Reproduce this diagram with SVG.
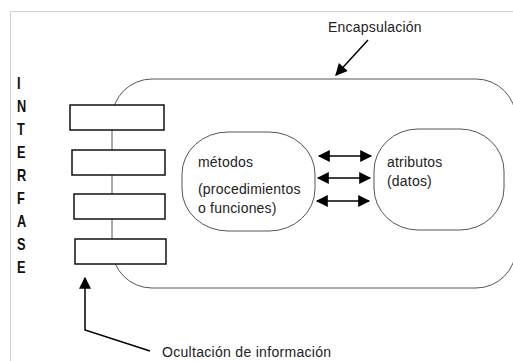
<svg xmlns="http://www.w3.org/2000/svg" width="513" height="361" viewBox="0 0 513 361">
<defs>
<style>
.t{font-family:"Liberation Sans",Arial,sans-serif;font-size:14px;letter-spacing:0.2px;fill:#222}
.v{font-family:"Liberation Sans",Arial,sans-serif;font-size:16px;font-weight:bold;fill:#111}
.thin{fill:none;stroke:#555;stroke-width:1}
.box{fill:#fff;stroke:#111;stroke-width:1.5}
.arr{stroke:#000;stroke-width:1.5;fill:none}
</style>
<marker id="ah2" viewBox="0 0 10 10" refX="9" refY="5" markerWidth="10" markerHeight="8" markerUnits="strokeWidth" orient="auto-start-reverse">
<path d="M0,0 L10,5 L0,10 z" fill="#000"/>
</marker>
</defs>
<rect width="513" height="361" fill="#fff"/>
<path d="M10.5,362 V11.5 H514" fill="none" stroke="#d0d0d0" stroke-width="1"/>
<g id="encapsulacion">
<rect class="thin" x="112" y="79" width="404" height="209" rx="40" ry="40"/>
</g>
<g id="box1"><rect class="box" x="70" y="105" width="94" height="25"/></g>
<g id="box2"><rect class="box" x="72" y="150" width="93" height="25"/></g>
<g id="box3"><rect class="box" x="74" y="194" width="91" height="25"/></g>
<g id="box4"><rect class="box" x="75" y="239" width="91" height="25"/></g>
<g id="metodos">
<rect class="thin" x="182" y="132" width="133" height="99" rx="46" ry="42" fill="#fff"/>
<text class="t" x="198" y="167">métodos</text>
<text class="t" x="198" y="194">(procedimientos</text>
<text class="t" x="198" y="213">o funciones)</text>
</g>
<g id="atributos">
<rect class="thin" x="374" y="129" width="130" height="101" rx="44" ry="42" fill="#fff"/>
<text class="t" x="387" y="167">atributos</text>
<text class="t" x="387" y="186">(datos)</text>
</g>
<g id="interfase-label" transform="translate(17,0) scale(0.8,1)">
<text class="v" x="0" y="89">I</text>
<text class="v" x="0" y="112">N</text>
<text class="v" x="0" y="135">T</text>
<text class="v" x="0" y="158">E</text>
<text class="v" x="0" y="181">R</text>
<text class="v" x="0" y="204">F</text>
<text class="v" x="0" y="227">A</text>
<text class="v" x="0" y="250">S</text>
<text class="v" x="0" y="273">E</text>
</g>
<g id="labels">
<text class="t" x="328" y="32">Encapsulación</text>
<text class="t" x="162" y="357" style="letter-spacing:0.3px">Ocultación de información</text>
</g>
<g id="connectors">
<line class="arr" x1="319" y1="156" x2="371" y2="156" marker-start="url(#ah2)" marker-end="url(#ah2)"/>
<line class="arr" x1="318" y1="178" x2="370" y2="178" marker-start="url(#ah2)" marker-end="url(#ah2)"/>
<line class="arr" x1="317" y1="201" x2="369" y2="201" marker-start="url(#ah2)" marker-end="url(#ah2)"/>
<line class="arr" x1="368" y1="40" x2="336" y2="75" marker-end="url(#ah2)"/>
<polyline class="arr" points="150,351 85,330 85,278" marker-end="url(#ah2)"/>
</g>
</svg>
